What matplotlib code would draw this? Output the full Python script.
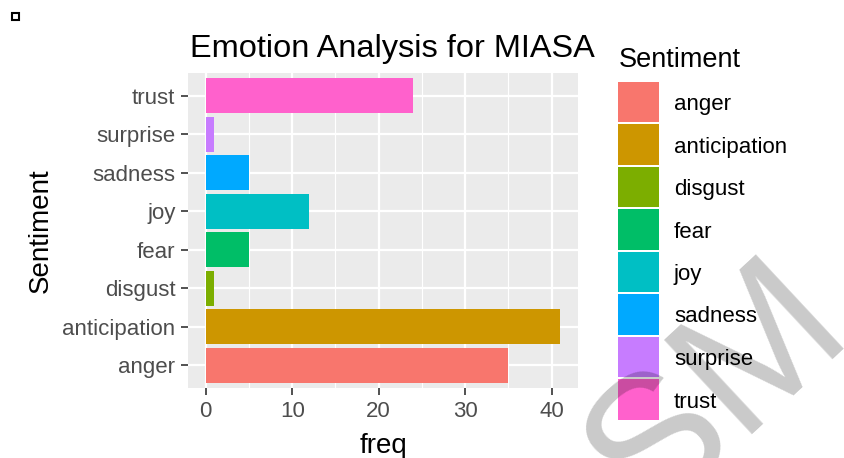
import matplotlib
matplotlib.use("Agg")
import matplotlib.pyplot as plt
from matplotlib.patches import Rectangle

categories = ["anger", "anticipation", "disgust", "fear", "joy", "sadness", "surprise", "trust"]
freq = [35, 41, 1, 5, 12, 5, 1, 24]
colors = ["#F8766D", "#CD9600", "#7CAE00", "#00BE67", "#00BFC4", "#00A9FF", "#C77CFF", "#FF61CC"]
title = "Emotion Analysis for MIASA"
xticks = [0, 10, 20, 30, 40]

plt.rcParams['font.family'] = ['Liberation Sans', 'DejaVu Sans']

fig = plt.figure(figsize=(8.45, 4.58), dpi=100)
W, H = 845, 458
def fx(x): return x / W
def fy(y): return 1 - y / H

left, right, top, bottom = 188, 578, 72.7, 388.3
ax = fig.add_axes([fx(left), fy(bottom), fx(right) - fx(left), fy(top) - fy(bottom)])
ax.set_facecolor("#EBEBEB")
for s in ax.spines.values():
    s.set_visible(False)

ypos = list(range(1, len(categories) + 1))
bars = ax.barh(ypos, freq, height=0.9, color=colors, zorder=3)

xmax = max(freq)
ax.set_xlim(-0.05 * xmax, xmax * 1.05)
ax.set_ylim(0.4, len(categories) + 0.6)
ax.set_xticks(xticks)
ax.set_xticks([5, 15, 25, 35], minor=True)
ax.set_yticks(ypos)
ax.set_yticklabels(categories)
ax.grid(True, which="major", color="white", linewidth=1.6, zorder=1)
ax.grid(True, which="minor", axis="x", color="white", linewidth=0.8, zorder=1)
ax.tick_params(axis="both", which="major", colors="#333333", labelcolor="#4D4D4D",
               labelsize=16, length=5, width=1.2, pad=4)
ax.tick_params(axis="both", which="minor", length=0)

ax.set_xlabel("freq", fontsize=20, color="black", labelpad=8)
ax.set_ylabel("Sentiment", fontsize=20, color="black", labelpad=6)

fig.text(fx(190), fy(57), title, fontsize=23.4, ha="left", va="baseline", color="black")

# legend (ggplot style)
fig.text(fx(619), fy(67), "Sentiment", fontsize=19.5, ha="left", va="baseline", color="black")
key_top, key_step, key_h, key_w = 81.7, 42.5, 40.6, 41
for i, (lab, c) in enumerate(zip(categories, colors)):
    y0 = key_top + i * key_step
    fig.add_artist(Rectangle((fx(618), fy(y0 + key_h)), key_w / W, key_h / H,
                             transform=fig.transFigure, facecolor=c, edgecolor="none",
                             zorder=1))
    fig.text(fx(674), fy(y0 + key_h / 2), lab, fontsize=16, ha="left", va="center_baseline",
             color="black", zorder=2)

# small square mark at top-left
fig.add_artist(Rectangle((fx(12), fy(19.5)), fx(7), 7 / H, transform=fig.transFigure,
                         facecolor="white", edgecolor="black", linewidth=1.5))

# watermark (darkening overlay)
fig.text(fx(718), fy(392), "SM", fontsize=135, color="black", alpha=0.21, rotation=43,
         ha="center", va="center", fontweight="normal", zorder=20)

fig.savefig("out.png", dpi=100)
